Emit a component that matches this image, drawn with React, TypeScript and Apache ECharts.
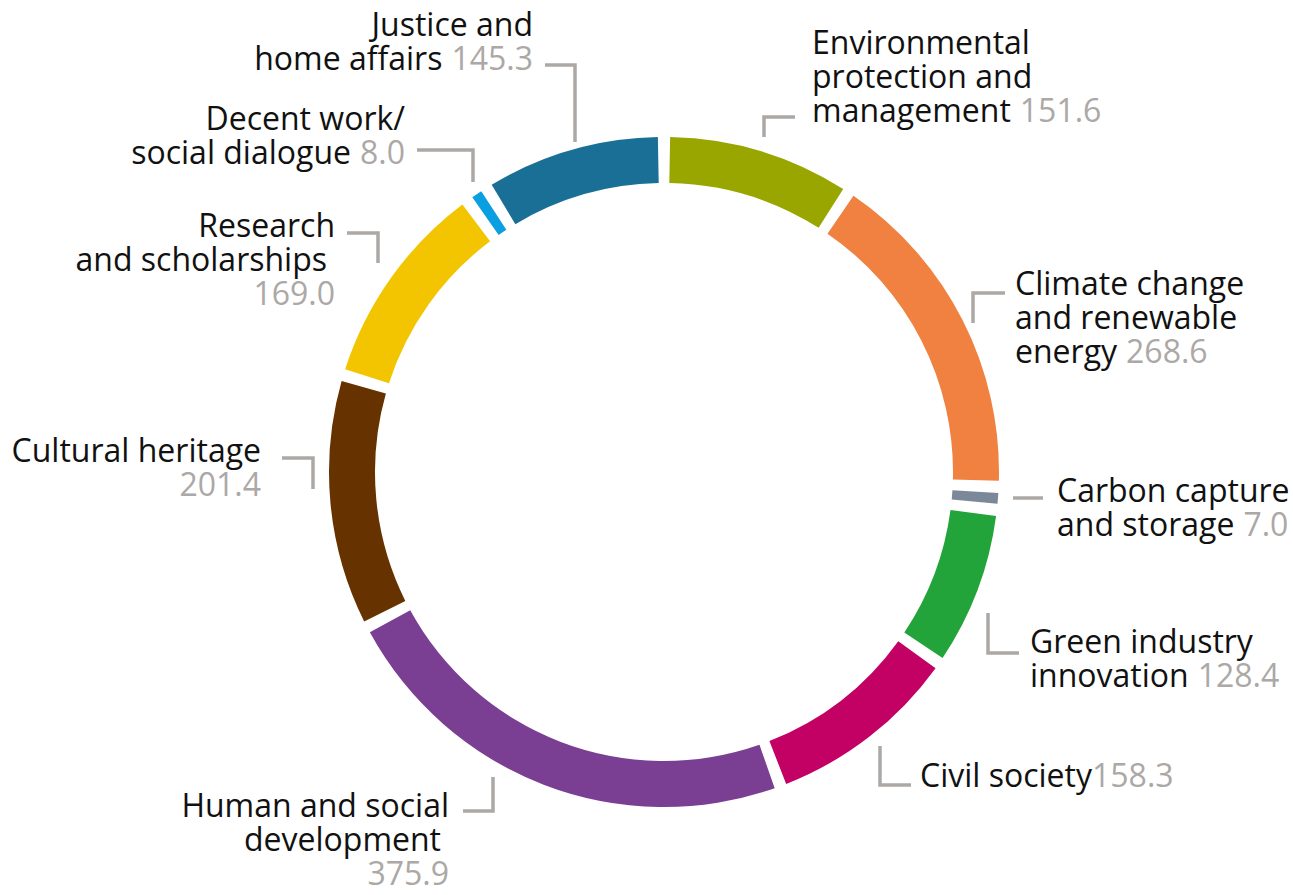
import React, { useEffect, useRef } from 'react';
import * as echarts from 'echarts';

// ---- data ----
const CATEGORIES = [
  'Environmental\nprotection and\nmanagement',
  'Climate change\nand renewable\nenergy',
  'Carbon capture\nand storage',
  'Green industry\ninnovation',
  'Civil society',
  'Human and social\ndevelopment',
  'Cultural heritage',
  'Research\nand scholarships',
  'Decent work/\nsocial dialogue',
  'Justice and\nhome affairs',
];
const VALUES = [151.6, 268.6, 7.0, 128.4, 158.3, 375.9, 201.4, 169.0, 8.0, 145.3];
const COLORS = [
  '#9aa600', '#f08140', '#7b8899', '#23a43a', '#c30063',
  '#7a3e92', '#663300', '#f2c500', '#0a9fe0', '#1a6f96',
];
// how the value follows the name: ' ' same line, '' glued, '\n' own line
const VALUE_SEPARATORS = [' ', ' ', ' ', ' ', '', '\n', '\n', '\n', ' ', ' '];

// ---- layout (label anchor x, first baseline y, align) ----
const LABEL_ANCHORS: [number, number, string][] = [
  [812, 54, 'left'],
  [1015, 295, 'left'],
  [1057, 502, 'left'],
  [1030, 653, 'left'],
  [920, 787, 'left'],
  [449, 817, 'right'],
  [261, 462, 'right'],
  [335, 237, 'right'],
  [405, 130, 'right'],
  [533, 36, 'right'],
];
// lines (item index -> line index) that sit slightly in from the aligned edge
const INSET_LINES: Record<number, number> = { 5: 1, 7: 1 };
const BRACKETS: number[][][] = [
  [[764, 137], [764, 117], [795, 117]],
  [[973, 323], [973, 293], [1005, 293]],
  [[1013, 498], [1028, 498], [1043, 498]],
  [[988, 613], [988, 653], [1019, 653]],
  [[880, 746], [880, 785], [911, 785]],
  [[463, 811], [493, 811], [493, 777]],
  [[282, 458], [313, 458], [313, 489]],
  [[347, 233], [378, 233], [378, 263]],
  [[417, 150], [473, 150], [473, 182]],
  [[545, 65], [575, 65], [575, 142]],
];

const FONT = '"Open Sans", "Noto Sans", sans-serif';
const FONT_SIZE = 32;
const LINE_H = 34;

function lineCount(i: number) {
  return CATEGORIES[i].split('\n').length + (VALUE_SEPARATORS[i] === '\n' ? 1 : 0);
}

function formatLabel(i: number) {
  const lines = CATEGORIES[i].split('\n');
  const sep = VALUE_SEPARATORS[i];
  const v = VALUES[i].toFixed(1);
  const body = lines
    .map((l, k) => (INSET_LINES[i] === k ? `{m|${l}}` : `{n|${l}}`))
    .join('\n');
  if (sep === '\n') return `${body}\n{w|${v}}`;
  if (sep === ' ') return `${body}{v|${v}}`;
  return `${body}{w|${v}}`;
}

export default function App() {
  const ref = useRef<HTMLDivElement>(null);
  useEffect(() => {
    if (!ref.current) return;
    const chart = echarts.init(ref.current, undefined, { renderer: 'svg' });
    const data = CATEGORIES.map((name, i) => ({
      name,
      value: VALUES[i],
      itemStyle: { color: COLORS[i] },
    }));
    const base = { fontFamily: FONT, fontSize: FONT_SIZE, lineHeight: LINE_H };
    chart.setOption({
      animation: false,
      backgroundColor: '#ffffff',
      series: [
        {
          type: 'pie',
          center: [664, 472],
          radius: [289, 335],
          startAngle: 90,
          clockwise: true,
          padAngle: 2.1,
          minAngle: 1.85,
          avoidLabelOverlap: false,
          silent: true,
          emphasis: { disabled: true },
          data,
          label: {
            show: true,
            position: 'outside',
            ...base,
            color: '#111111',
            formatter: (p: any) => formatLabel(p.dataIndex),
            rich: {
              n: { ...base, color: '#111111' },
              m: { ...base, color: '#111111', padding: [0, 8, 0, 0] },
              v: { ...base, color: '#aca8a5', padding: [0, 0, 0, 9] },
              w: { ...base, color: '#aca8a5' },
            },
          },
          labelLine: {
            show: true,
            smooth: false,
            lineStyle: { color: '#aca8a5', width: 3.5, join: 'miter', cap: 'butt' },
          },
          labelLayout: (params: any) => {
            const i = params.dataIndex;
            const [ax, baseY, align] = LABEL_ANCHORS[i];
            const n = lineCount(i);
            return {
              x: ax,
              y: baseY - 12.4 - LINE_H / 2 + (LINE_H / 2) * n,
              align,
              verticalAlign: 'middle',
              labelLinePoints: BRACKETS[i],
            };
          },
        },
      ],
    });
    return () => chart.dispose();
  }, []);
  return (
    <div
      ref={ref}
      style={{ position: 'absolute', left: 0, top: 0, width: 1293, height: 895, background: '#fff' }}
    />
  );
}
